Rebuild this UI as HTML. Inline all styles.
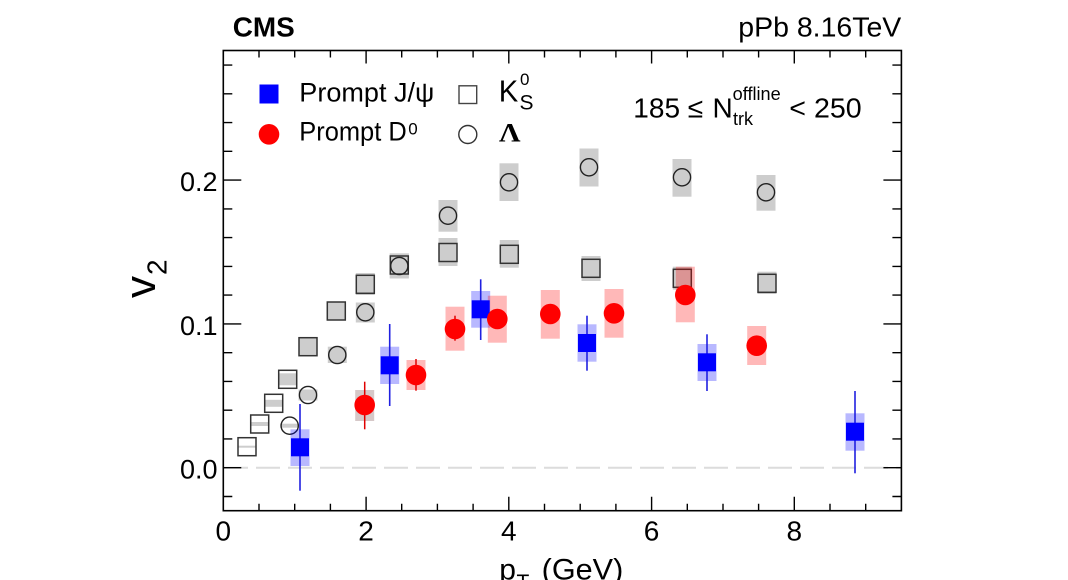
<!DOCTYPE html>
<html>
<head>
<meta charset="utf-8">
<style>
html,body{margin:0;padding:0;background:#fff;}
svg{display:block;}
text{font-family:"Liberation Sans",sans-serif;fill:#000;}
</style>
</head>
<body>
<svg width="1068" height="580" viewBox="0 0 1068 580" xmlns="http://www.w3.org/2000/svg">
<rect x="0" y="0" width="1068" height="580" fill="#fff"/>

<!-- zero dashed line -->
<line x1="224" y1="467.7" x2="901" y2="467.7" stroke="#dcdcdc" stroke-width="2" stroke-dasharray="24 8"/>

<!-- K0S sys boxes -->
<g fill="#cdcdcd">
<rect x="237.5" y="445.7" width="19" height="2"/>
<rect x="250.2" y="422" width="19" height="4"/>
<rect x="264.2" y="399.8" width="19" height="7"/>
<rect x="278.2" y="373.3" width="19" height="12"/>
<rect x="298.5" y="337.7" width="19" height="18"/>
<rect x="326.8" y="302" width="19" height="18"/>
<rect x="355.8" y="273" width="19" height="22"/>
<rect x="389.8" y="253.3" width="19" height="25"/>
<rect x="438.5" y="238" width="19" height="28"/>
<rect x="499.8" y="240" width="19" height="27.7"/>
<rect x="581.5" y="256" width="19" height="25"/>
<rect x="672.8" y="266.7" width="19" height="23"/>
<rect x="757.5" y="271.7" width="19" height="22.3"/>
</g>
<!-- Lambda sys boxes -->
<g fill="#cdcdcd">
<rect x="280.2" y="423.7" width="19" height="4"/>
<rect x="298.5" y="389.5" width="19" height="11"/>
<rect x="327.8" y="346.7" width="19" height="16.3"/>
<rect x="355.8" y="302.5" width="19" height="20"/>
<rect x="389.8" y="253.5" width="19" height="25"/>
<rect x="438.5" y="200" width="19" height="31.7"/>
<rect x="499.5" y="163.3" width="19" height="37.7"/>
<rect x="579.5" y="148.5" width="19" height="38"/>
<rect x="672.5" y="159" width="19" height="37.7"/>
<rect x="756.5" y="175" width="19" height="35.7"/>
</g>

<!-- K0S markers -->
<g fill="none" stroke="#333" stroke-width="1.5">
<rect x="238" y="437.7" width="18" height="18"/>
<rect x="250.7" y="415" width="18" height="18"/>
<rect x="264.7" y="394.3" width="18" height="18"/>
<rect x="278.7" y="370.3" width="18" height="18"/>
<rect x="299" y="337.7" width="18" height="18"/>
<rect x="327.3" y="302" width="18" height="18"/>
<rect x="356.3" y="275.3" width="18" height="18"/>
<rect x="390.3" y="256" width="18" height="18"/>
<rect x="439" y="243.5" width="18" height="18"/>
<rect x="500.3" y="245.3" width="18" height="18"/>
<rect x="582" y="259.3" width="18" height="18"/>
<rect x="673.3" y="269.3" width="18" height="18"/>
<rect x="758" y="274.3" width="18" height="18"/>
</g>
<!-- Lambda markers -->
<g fill="none" stroke="#222" stroke-width="1.4">
<circle cx="289.7" cy="425.7" r="8.6"/>
<circle cx="308" cy="395" r="8.6"/>
<circle cx="337.3" cy="355" r="8.6"/>
<circle cx="365.3" cy="312.3" r="8.6"/>
<circle cx="399.3" cy="266" r="8.6"/>
<circle cx="448" cy="215.7" r="8.6"/>
<circle cx="509" cy="182.3" r="8.6"/>
<circle cx="589" cy="167.3" r="8.6"/>
<circle cx="682" cy="177.3" r="8.6"/>
<circle cx="766" cy="192.3" r="8.6"/>
</g>

<!-- J/psi sys boxes -->
<g fill="#0000ff" fill-opacity="0.28">
<rect x="290.5" y="429.3" width="19" height="36.7"/>
<rect x="380.2" y="346.7" width="19" height="37.3"/>
<rect x="471.2" y="291" width="19" height="36.7"/>
<rect x="577.5" y="324.3" width="19" height="37.4"/>
<rect x="697.5" y="344" width="19" height="37"/>
<rect x="845.5" y="413.3" width="19" height="37.4"/>
</g>
<!-- J/psi stat lines -->
<g stroke="#2020e0" stroke-width="1.6">
<line x1="300" y1="404" x2="300" y2="490.7"/>
<line x1="389.7" y1="324" x2="389.7" y2="406"/>
<line x1="480.7" y1="279.3" x2="480.7" y2="340"/>
<line x1="587" y1="315.7" x2="587" y2="370.7"/>
<line x1="707" y1="334.3" x2="707" y2="391"/>
<line x1="855" y1="391" x2="855" y2="473.3"/>
</g>

<!-- D0 sys boxes -->
<rect x="355.2" y="390" width="19" height="31" fill="#d6c8c8"/>
<g fill="#ff0000" fill-opacity="0.28">
<rect x="406.5" y="360" width="19" height="30"/>
<rect x="445.5" y="306.7" width="19" height="44"/>
<rect x="487.8" y="295.7" width="19" height="47"/>
<rect x="540.8" y="290" width="19" height="48.7"/>
<rect x="604.5" y="289" width="19" height="48.7"/>
<rect x="675.8" y="266.7" width="19" height="55.6"/>
<rect x="747.2" y="326" width="19" height="39"/>
</g>

<!-- J/psi markers -->
<g fill="#0000ff">
<rect x="291" y="438.3" width="18" height="18"/>
<rect x="380.7" y="356.3" width="18" height="18"/>
<rect x="471.7" y="300.3" width="18" height="18"/>
<rect x="578" y="334" width="18" height="18"/>
<rect x="698" y="353.3" width="18" height="18"/>
<rect x="846" y="422.7" width="18" height="18"/>
</g>

<!-- D0 stat lines -->
<g stroke="#e00000" stroke-width="1.5">
<line x1="364.7" y1="381.7" x2="364.7" y2="429.3"/>
<line x1="416" y1="359" x2="416" y2="390.7"/>
<line x1="455" y1="315.7" x2="455" y2="340.7"/>
</g>
<!-- D0 markers -->
<g fill="#ff0000">
<circle cx="364.7" cy="405" r="10.3"/>
<circle cx="416" cy="375" r="10.3"/>
<circle cx="455" cy="329" r="10.3"/>
<circle cx="497.3" cy="319" r="10.3"/>
<circle cx="550.3" cy="314" r="10.3"/>
<circle cx="614" cy="313.3" r="10.3"/>
<circle cx="685.3" cy="295" r="10.3"/>
<circle cx="756.7" cy="345.7" r="10.3"/>
</g>

<!-- frame -->
<rect x="223.3" y="50.5" width="678.1" height="460.2" fill="none" stroke="#000" stroke-width="1.6"/>
<!-- ticks -->
<path fill="none" stroke="#000" stroke-width="1.4" d="
M223.3 510.7V496.7 M259 510.7V503.7 M294.7 510.7V503.7 M330.4 510.7V503.7
M366.1 510.7V496.7 M401.7 510.7V503.7 M437.4 510.7V503.7 M473.1 510.7V503.7
M508.8 510.7V496.7 M544.5 510.7V503.7 M580.2 510.7V503.7 M615.9 510.7V503.7
M651.6 510.7V496.7 M687.3 510.7V503.7 M723 510.7V503.7 M758.6 510.7V503.7
M794.3 510.7V496.7 M830 510.7V503.7 M865.7 510.7V503.7
M223.3 50.5V63.5 M259 50.5V57.5 M294.7 50.5V57.5 M330.4 50.5V57.5
M366.1 50.5V63.5 M401.7 50.5V57.5 M437.4 50.5V57.5 M473.1 50.5V57.5
M508.8 50.5V63.5 M544.5 50.5V57.5 M580.2 50.5V57.5 M615.9 50.5V57.5
M651.6 50.5V63.5 M687.3 50.5V57.5 M723 50.5V57.5 M758.6 50.5V57.5
M794.3 50.5V63.5 M830 50.5V57.5 M865.7 50.5V57.5
M223.3 496.5H232.3 M223.3 467.7H241.3 M223.3 438.9H232.3 M223.3 410.2H232.3
M223.3 381.4H232.3 M223.3 352.7H232.3 M223.3 323.9H241.3 M223.3 295.1H232.3
M223.3 266.4H232.3 M223.3 237.6H232.3 M223.3 208.9H232.3 M223.3 180.1H241.3
M223.3 151.3H232.3 M223.3 122.6H232.3 M223.3 93.8H232.3 M223.3 65.1H232.3
M901.4 496.5H892.4 M901.4 467.7H883.4 M901.4 438.9H892.4 M901.4 410.2H892.4
M901.4 381.4H892.4 M901.4 352.7H892.4 M901.4 323.9H883.4 M901.4 295.1H892.4
M901.4 266.4H892.4 M901.4 237.6H892.4 M901.4 208.9H892.4 M901.4 180.1H883.4
M901.4 151.3H892.4 M901.4 122.6H892.4 M901.4 93.8H892.4 M901.4 65.1H892.4
"/>

<!-- axis labels -->
<g font-size="28" text-anchor="middle">
<text x="223.3" y="540.5">0</text>
<text x="366.1" y="540.5">2</text>
<text x="508.8" y="540.5">4</text>
<text x="651.6" y="540.5">6</text>
<text x="794.3" y="540.5">8</text>
</g>
<g font-size="27" text-anchor="end">
<text x="217.5" y="478.7">0.0</text>
<text x="217.5" y="335">0.1</text>
<text x="217.5" y="191">0.2</text>
</g>

<!-- axis titles -->
<g transform="translate(155,298) rotate(-90)">
<text x="0" y="0" font-size="44">v</text>
<text x="23" y="11.7" font-size="28">2</text>
</g>
<text x="499.3" y="579.5" font-size="30">p</text>
<text x="516.5" y="589" font-size="21">T</text>
<text x="541.7" y="579.5" font-size="30" textLength="81.6" lengthAdjust="spacingAndGlyphs">(GeV)</text>

<!-- header -->
<text x="232.7" y="36.7" font-size="28" font-weight="bold" textLength="62" lengthAdjust="spacingAndGlyphs">CMS</text>
<text x="738.3" y="36.7" font-size="28" textLength="163" lengthAdjust="spacingAndGlyphs">pPb 8.16TeV</text>

<!-- multiplicity label -->
<text x="633.3" y="117.3" font-size="28">185 ≤</text>
<text x="712.5" y="117.3" font-size="28">N</text>
<text x="732.7" y="100" font-size="18" textLength="48" lengthAdjust="spacingAndGlyphs">offline</text>
<text x="733" y="125" font-size="18" textLength="20" lengthAdjust="spacingAndGlyphs">trk</text>
<text x="789.3" y="117.3" font-size="28" textLength="72.4" lengthAdjust="spacingAndGlyphs">&lt; 250</text>

<!-- legend -->
<rect x="259.5" y="84.5" width="19" height="19" fill="#0000ff"/>
<circle cx="269" cy="134.3" r="10.3" fill="#ff0000"/>
<rect x="459" y="85.8" width="17.7" height="17.7" fill="none" stroke="#444" stroke-width="1.4"/>
<circle cx="467.8" cy="134.5" r="9" fill="none" stroke="#333" stroke-width="1.4"/>
<text x="299.3" y="101.7" font-size="27" textLength="135" lengthAdjust="spacingAndGlyphs">Prompt J/ψ</text>
<text x="299.3" y="140.5" font-size="27" textLength="107.4" lengthAdjust="spacingAndGlyphs">Prompt D</text>
<text x="408.3" y="134.5" font-size="17">0</text>
<text x="498.8" y="101.7" font-size="31" textLength="19.5" lengthAdjust="spacingAndGlyphs">K</text>
<text x="520" y="85" font-size="17">0</text>
<text x="519.5" y="109.3" font-size="21">S</text>
<text x="499" y="141.5" font-size="26" font-weight="bold" textLength="21.5" lengthAdjust="spacingAndGlyphs" style="font-family:'Liberation Serif',serif">Λ</text>
</svg>
</body>
</html>
